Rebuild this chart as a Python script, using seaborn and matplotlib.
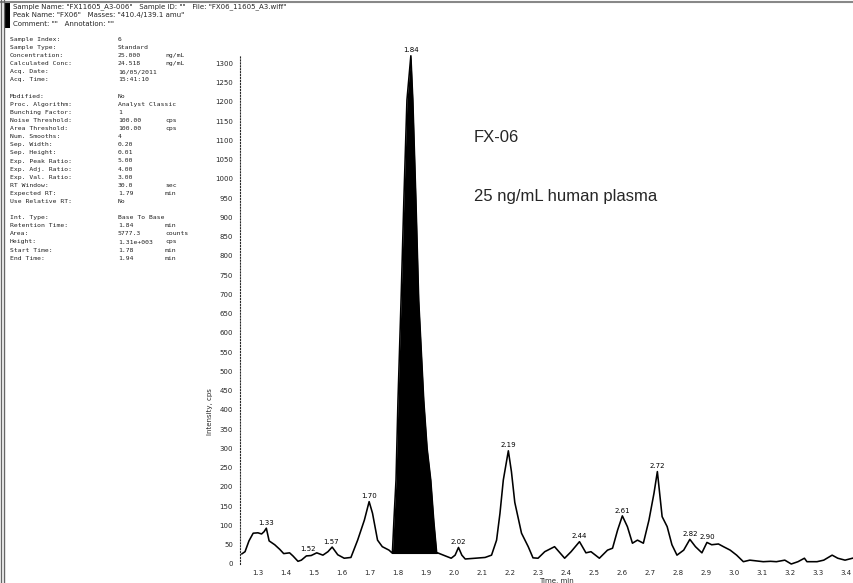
import numpy as np
import pandas as pd
import matplotlib
matplotlib.use("Agg")
import matplotlib.pyplot as plt
from matplotlib.lines import Line2D
from matplotlib.patches import Rectangle
import seaborn as sns

# ---------------- data ----------------
time_min = [1.242, 1.254, 1.268, 1.283, 1.300, 1.313, 1.322, 1.330, 1.340, 1.360,
            1.378, 1.392, 1.413, 1.425, 1.443, 1.455, 1.473, 1.490, 1.510, 1.532,
            1.550, 1.565, 1.585, 1.608, 1.632, 1.656, 1.680, 1.697, 1.709, 1.727,
            1.744, 1.768, 1.780, 1.786, 1.793, 1.800, 1.811, 1.821, 1.832, 1.846,
            1.853, 1.864, 1.874, 1.892, 1.904, 1.917, 1.928, 1.938, 1.969, 1.990,
            2.004, 2.016, 2.028, 2.040, 2.076, 2.111, 2.134, 2.152, 2.164, 2.176,
            2.194, 2.205, 2.217, 2.241, 2.265, 2.282, 2.300, 2.324, 2.359, 2.395,
            2.418, 2.448, 2.471, 2.489, 2.519, 2.548, 2.566, 2.584, 2.601, 2.619,
            2.637, 2.655, 2.676, 2.696, 2.714, 2.726, 2.743, 2.761, 2.778, 2.796,
            2.820, 2.842, 2.862, 2.885, 2.903, 2.920, 2.944, 2.962, 2.986, 3.009,
            3.033, 3.056, 3.080, 3.104, 3.130, 3.151, 3.181, 3.204, 3.228, 3.251,
            3.260, 3.296, 3.320, 3.350, 3.370, 3.396, 3.428]
intensity_cps = [26, 32, 60, 80, 81, 78, 84, 93, 60, 50,
                 38, 27, 29, 21, 7, 10, 21, 22, 29, 23,
                 32, 44, 24, 15, 17, 62, 114, 162, 132, 62,
                 45, 36, 28, 120, 218, 425, 685, 945, 1205, 1320,
                 1205, 945, 685, 425, 300, 218, 110, 30, 21, 15,
                 23, 43, 23, 13, 15, 17, 23, 62, 131, 218,
                 294, 240, 160, 80, 45, 16, 15, 32, 45, 15,
                 32, 58, 29, 32, 15, 36, 41, 88, 125, 97,
                 54, 62, 54, 114, 184, 240, 123, 97, 50, 23,
                 36, 64, 45, 29, 56, 50, 52, 45, 36, 23,
                 6, 10, 8, 6, 7, 6, 10, 0, 6, 15,
                 6, 6, 10, 23, 15, 10, 16]

peak_labels = ["1.33", "1.52", "1.57", "1.70", "1.84", "2.02", "2.19", "2.44",
               "2.61", "2.72", "2.82", "2.90"]
peak_label_time = [1.330, 1.480, 1.562, 1.697, 1.846, 2.016, 2.194, 2.448,
                   2.601, 2.726, 2.842, 2.903]
peak_label_height = [93, 24, 44, 162, 1320, 43, 294, 58, 125, 240, 64, 56]

integ_start = 1.78
integ_end = 1.938
integ_baseline = 28

x_ticks = [1.3, 1.4, 1.5, 1.6, 1.7, 1.8, 1.9, 2.0, 2.1, 2.2, 2.3, 2.4, 2.5,
           2.6, 2.7, 2.8, 2.9, 3.0, 3.1, 3.2, 3.3, 3.4]
y_ticks = list(range(0, 1301, 50))

header_lines = [
    'Sample Name: "FX11605_A3-006"   Sample ID: ""   File: "FX06_11605_A3.wiff"',
    'Peak Name: "FX06"   Masses: "410.4/139.1 amu"',
    'Comment: ""   Annotation: ""',
]
param_rows = [
    ("Sample Index:", "6", ""),
    ("Sample Type:", "Standard", ""),
    ("Concentration:", "25.000", "ng/mL"),
    ("Calculated Conc:", "24.518", "ng/mL"),
    ("Acq. Date:", "16/05/2011", ""),
    ("Acq. Time:", "15:41:10", ""),
    ("", "", ""),
    ("Modified:", "No", ""),
    ("Proc. Algorithm:", "Analyst Classic", ""),
    ("Bunching Factor:", "1", ""),
    ("Noise Threshold:", "100.00", "cps"),
    ("Area Threshold:", "100.00", "cps"),
    ("Num. Smooths:", "4", ""),
    ("Sep. Width:", "0.20", ""),
    ("Sep. Height:", "0.01", ""),
    ("Exp. Peak Ratio:", "5.00", ""),
    ("Exp. Adj. Ratio:", "4.00", ""),
    ("Exp. Val. Ratio:", "3.00", ""),
    ("RT Window:", "30.0", "sec"),
    ("Expected RT:", "1.79", "min"),
    ("Use Relative RT:", "No", ""),
    ("", "", ""),
    ("Int. Type:", "Base To Base", ""),
    ("Retention Time:", "1.84", "min"),
    ("Area:", "5777.3", "counts"),
    ("Height:", "1.31e+003", "cps"),
    ("Start Time:", "1.78", "min"),
    ("End Time:", "1.94", "min"),
]

# ---------------- figure ----------------
sns.set_style("white")
plt.rcParams["font.family"] = ["DejaVu Sans"]

W, H = 854, 583
fig = plt.figure(figsize=(W / 100, H / 100), dpi=100)
fig.patch.set_facecolor("white")

ax_left, ax_right, ax_top, ax_bottom = 240, 854, 55, 564
ax = fig.add_axes([ax_left / W, (H - ax_bottom) / H,
                   (ax_right - ax_left) / W, (ax_bottom - ax_top) / H])

df = pd.DataFrame({"time": time_min, "intensity": intensity_cps})
sns.lineplot(data=df, x="time", y="intensity", ax=ax, color="black",
             linewidth=1.15, sort=False, estimator=None, clip_on=False)

sub = df[(df["time"] >= integ_start) & (df["time"] <= integ_end)]
ax.fill_between(sub["time"], integ_baseline, sub["intensity"],
                color="black", linewidth=0, clip_on=False)
ax.plot([integ_start, integ_end], [integ_baseline, integ_baseline],
        color="black", lw=0.8)

for lab, t, h in zip(peak_labels, peak_label_time, peak_label_height):
    ax.text(t, h + 6, lab, fontsize=5, ha="center", va="bottom", color="black",
            clip_on=False)

ax.set_xlim(1.236, 3.428)
ax.set_ylim(0, 1322)
ax.set_xticks(x_ticks)
ax.set_xticklabels([f"{v:.1f}" for v in x_ticks], fontsize=5)
ax.set_yticks(y_ticks)
ax.set_yticklabels([str(v) for v in y_ticks], fontsize=5)
ax.set_yticks(np.arange(0, 1321, 10), minor=True)
ax.tick_params(axis="y", which="major", length=3, width=0.6, pad=2, direction="out")
ax.tick_params(axis="y", which="minor", length=1.2, width=0.5, direction="out")
ax.tick_params(axis="x", which="major", length=2.5, width=0.6, pad=2, direction="out")
for s in ["top", "right", "bottom"]:
    ax.spines[s].set_visible(False)
ax.spines["left"].set_linestyle(":")
ax.spines["left"].set_linewidth(0.8)
ax.set_xlabel("Time, min", fontsize=5, labelpad=1)
ax.xaxis.set_label_coords(0.515, -0.028)
ax.set_ylabel("Intensity, cps", fontsize=5)
ax.yaxis.set_label_coords(-0.044, 0.30)
ax.patch.set_alpha(0)

fig.text(474 / W, 1 - 137 / H, "FX-06", fontsize=12,
         family="Liberation Sans", ha="left", va="center")
fig.text(474 / W, 1 - 197 / H, "25 ng/mL human plasma",
         fontsize=12, family="Liberation Sans", ha="left", va="center")

# ---------------- frame and text panel ----------------
def fx(px):
    return px / W

def fy(py):
    return 1 - py / H

fig.add_artist(Line2D([0, 1], [fy(2), fy(2)], color="#888888", lw=1.5))
fig.add_artist(Line2D([fx(1.5), fx(1.5)], [0, 1], color="#666666", lw=1.0))
fig.add_artist(Line2D([fx(4.5), fx(4.5)], [0, 1], color="#666666", lw=1.0))
fig.add_artist(Rectangle((fx(5), fy(28)), fx(5) - fx(0), fy(3) - fy(28),
                         transform=fig.transFigure, color="black", lw=0))

for i, line in enumerate(header_lines):
    fig.text(fx(13), fy(7 + i * 8.3), line, fontsize=5, ha="left", va="center")

for i, (lab, val, unit) in enumerate(param_rows):
    yy = fy(39.5 + i * 8.1)
    fig.text(fx(10), yy, lab, fontsize=4.6, family="DejaVu Sans Mono",
             ha="left", va="center", color="#222222")
    fig.text(fx(118), yy, val, fontsize=4.6, family="DejaVu Sans Mono",
             ha="left", va="center", color="#222222")
    fig.text(fx(165), yy, unit, fontsize=4.6, family="DejaVu Sans Mono",
             ha="left", va="center", color="#222222")

fig.savefig("out.png", dpi=100, facecolor="white")
